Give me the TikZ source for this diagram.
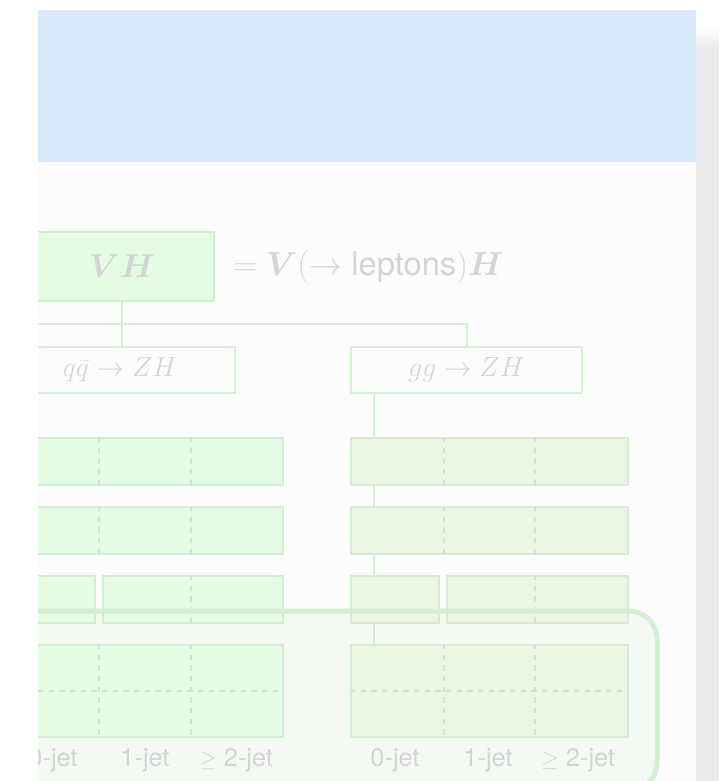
\documentclass[tikz,border=0pt]{standalone}
\usepackage{fontspec}
\usepackage{amsmath}
\usepackage{bm}
\setsansfont{TeX Gyre Heros}
\definecolor{bluebar}{HTML}{D9E9FA}
\definecolor{slidebg}{HTML}{FCFCFC}
\definecolor{greystrip}{HTML}{EBEBEB}
\definecolor{lfill}{HTML}{E4FBE4}
\definecolor{rfill}{HTML}{EBF5E2}
\definecolor{bordc}{HTML}{D5EBD3}
\definecolor{linec}{HTML}{D6EDD6}
\definecolor{dashc}{HTML}{D3E3D3}
\definecolor{hlfill}{HTML}{F4F9F4}
\definecolor{hlborder}{HTML}{D5EFD5}
\definecolor{txtc}{HTML}{D4D4D4}
\tikzset{
  boxbase/.style={draw=bordc, line width=1.5pt, inner sep=0pt, text=txtc},
  lbox/.style={boxbase, fill=lfill},
  rbox/.style={boxbase, fill=rfill},
  procbox/.style={boxbase, draw=hlborder, fill=none, font=\fontsize{21}{24}\selectfont},
  conn/.style={draw=linec, line width=1.5pt},
  dashline/.style={draw=dashc, line width=1pt, dash pattern=on 4pt off 4pt},
  jetlabel/.style={text=txtc, font=\sffamily\fontsize{19}{21}\selectfont, anchor=base, inner sep=0pt},
}
\begin{document}
\begin{tikzpicture}[x=0.75pt,y=-0.75pt]
\useasboundingbox (0,0) rectangle (719,781);
\fill[white] (0,0) rectangle (719,781);
\fill[slidebg] (38,162) rectangle (696,781);
\fill[bluebar] (38,10) rectangle (696,162);
\shade[top color=white, bottom color=greystrip] (696,26) rectangle (719,48);
\fill[greystrip] (696,48) rectangle (719,781);
\begin{scope}
\clip (38,162) rectangle (696,781);
% highlight fill
\fill[hlfill, rounded corners=21pt] (-20,611) rectangle (657,791);
% guide coordinates
\coordinate (rl) at (374,0);
\coordinate (hl) at (0,324);
\coordinate (ld1) at (99,0);
\coordinate (ld2) at (191,0);
\coordinate (rd1) at (444,0);
\coordinate (rd2) at (535,0);
\coordinate (hmid) at (0,691);
% top nodes
\node[lbox, minimum width=138pt, minimum height=51.75pt, font=\fontsize{26}{30}\selectfont] (vh) at (122,266.5) {$\bm{VH}$};
\node[procbox, minimum width=172.5pt, minimum height=34.5pt] (qq) at (120,370) {$q\bar{q}\rightarrow ZH$};
\node[procbox, minimum width=173.25pt, minimum height=34.5pt] (gg) at (466.5,370) {$gg\rightarrow ZH$};
\node[anchor=west, inner sep=0pt, text=txtc, font=\fontsize{24.5}{28}\selectfont] (eq) at (233,267) {$=\bm{V}(\rightarrow \text{\sffamily leptons})\bm{H}$};
% connectors
\draw[conn] (vh.south) -- (vh.south |- qq.north);
\draw[conn] (hl) -| (gg.north);
% left column
\node[lbox, minimum width=207pt, minimum height=35.25pt] (l1) at (145,461.5) {};
\node[lbox, minimum width=207pt, minimum height=35.25pt] (l2) at (145,530.5) {};
\node[lbox, minimum width=66pt, minimum height=35.25pt] (l3a) at (51,599.5) {};
\node[lbox, minimum width=135pt, minimum height=35.25pt] (l3b) at (193,599.5) {};
\node[lbox, minimum width=207pt, minimum height=69pt] (l4) at (145,691) {};
% right column
\coordinate (r4top) at (374,645);
\draw[conn] (gg.south -| rl) -- (r4top);
\node[rbox, minimum width=207.75pt, minimum height=35.25pt] (r1) at (489.5,461.5) {};
\node[rbox, minimum width=207.75pt, minimum height=35.25pt] (r2) at (489.5,530.5) {};
\node[rbox, minimum width=66pt, minimum height=35.25pt] (r3a) at (395,599.5) {};
\node[rbox, minimum width=135.75pt, minimum height=35.25pt] (r3b) at (537.5,599.5) {};
\node[rbox, minimum width=207.75pt, minimum height=69pt] (r4) at (489.5,691) {};
\draw[conn] (r3a.south -| rl) -- (r4.north -| rl);
% dividers
\foreach \b in {l1,l2,l4} {
  \draw[dashline] (\b.north -| ld1) -- (\b.south -| ld1);
  \draw[dashline] (\b.north -| ld2) -- (\b.south -| ld2);
}
\draw[dashline] (l3b.north -| ld2) -- (l3b.south -| ld2);
\foreach \b in {r1,r2,r4} {
  \draw[dashline] (\b.north -| rd1) -- (\b.south -| rd1);
  \draw[dashline] (\b.north -| rd2) -- (\b.south -| rd2);
}
\draw[dashline] (r3b.north -| rd2) -- (r3b.south -| rd2);
\draw[dashline] (l4.west |- hmid) -- (l4.east |- hmid);
\draw[dashline] (r4.west |- hmid) -- (r4.east |- hmid);
% labels
\node[jetlabel] (lj0) at (53,766) {0-jet};
\node[jetlabel] (lj1) at (145,766) {1-jet};
\node[jetlabel] (lj2) at (236,766) {$\geq$ 2-jet};
\node[jetlabel] (rj0) at (395,766) {0-jet};
\node[jetlabel] (rj1) at (488,766) {1-jet};
\node[jetlabel] (rj2) at (578,766) {$\geq$ 2-jet};
% highlight border
\draw[hlborder, line width=3.75pt, rounded corners=21pt] (-20,611) rectangle (657,791);
\end{scope}
\end{tikzpicture}
\end{document}
